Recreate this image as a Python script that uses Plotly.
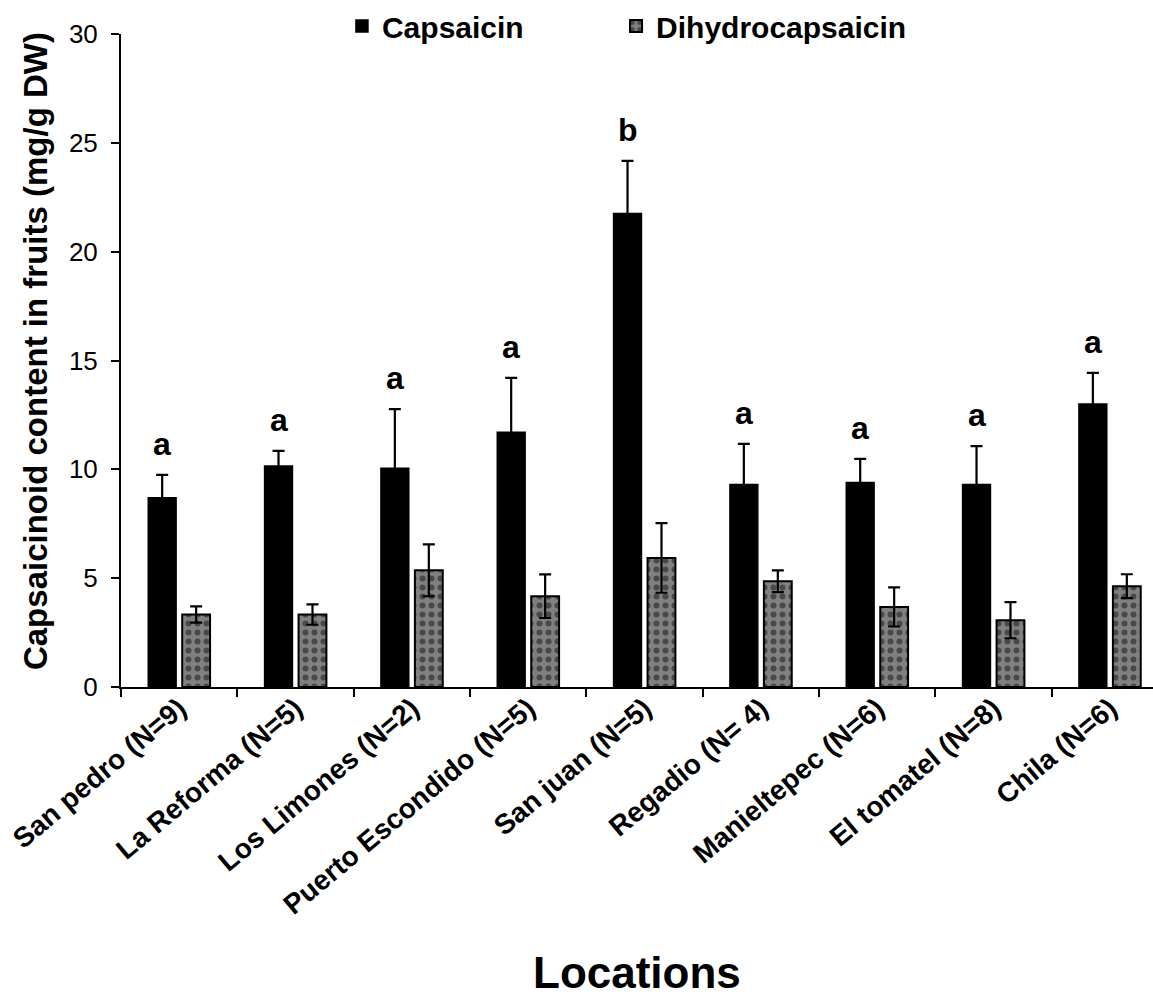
import plotly.graph_objects as go

locations = ["San pedro (N=9)", "La Reforma (N=5)", "Los Limones (N=2)",
             "Puerto Escondido (N=5)", "San juan (N=5)", "Regadio (N= 4)",
             "Manieltepec (N=6)", "El tomatel (N=8)", "Chila (N=6)"]
capsaicin = [8.7, 10.15, 10.05, 11.7, 21.75, 9.3, 9.4, 9.3, 13.0]
capsaicin_err = [1.05, 0.7, 2.72, 2.5, 2.42, 1.87, 1.08, 1.77, 1.43]
dihydro = [3.33, 3.33, 5.36, 4.17, 5.93, 4.86, 3.68, 3.07, 4.63]
dihydro_err = [0.37, 0.47, 1.19, 1.0, 1.6, 0.5, 0.9, 0.83, 0.55]
letters = ["a", "a", "a", "a", "b", "a", "a", "a", "a"]

FONT = "Liberation Sans, Arial, sans-serif"

fig = go.Figure()
fig.add_trace(go.Bar(
    name="Capsaicin", x=locations, y=capsaicin, legend="legend",
    marker=dict(color="black", line=dict(color="black", width=1.5)),
    error_y=dict(type="data", array=capsaicin_err, visible=True,
                 color="black", thickness=2.2, width=6),
))
fig.add_trace(go.Bar(
    name="Dihydrocapsaicin", x=locations, y=dihydro, legend="legend2",
    marker=dict(color="#808080", line=dict(color="black", width=2),
                pattern=dict(shape=".", fgcolor="#111111", bgcolor="#808080",
                             size=9, solidity=0.35, fillmode="overlay")),
    error_y=dict(type="data", array=dihydro_err, visible=True,
                 color="black", thickness=2.2, width=6),
))

annotations = []
for loc, v, e, t in zip(locations, capsaicin, capsaicin_err, letters):
    annotations.append(dict(x=loc, y=v + e, xref="x", yref="y", text=t,
                            showarrow=False, xshift=-17, yshift=11,
                            yanchor="bottom",
                            font=dict(family=FONT, size=32, color="black",
                                      weight="bold")))
annotations.append(dict(x=0.5, y=-0.437, xref="paper", yref="paper",
                        text="Locations", showarrow=False,
                        xanchor="center", yanchor="middle",
                        font=dict(family=FONT, size=44, color="black",
                                  weight="bold")))
annotations.append(dict(x=-0.0833, y=0.5145, xref="paper", yref="paper",
                        text="Capsaicinoid content in fruits (mg/g DW)",
                        showarrow=False, textangle=-90,
                        xanchor="center", yanchor="middle",
                        font=dict(family=FONT, size=33, color="black",
                                  weight="bold")))

legend_style = dict(orientation="h", xanchor="left", y=1.052, yanchor="top",
                    font=dict(family=FONT, size=30, weight="bold"),
                    bgcolor="rgba(0,0,0,0)")

fig.update_layout(
    width=1153, height=1005,
    margin=dict(l=121, r=0, t=34, b=318),
    paper_bgcolor="white", plot_bgcolor="white",
    barmode="group", bargap=0.416, bargroupgap=0.18,
    font=dict(family=FONT, color="black"),
    showlegend=True,
    legend=dict(x=0.2141, **legend_style),
    legend2=dict(x=0.4797, **legend_style),
    annotations=annotations,
    xaxis=dict(range=[-0.5, 8.371], showline=True, linecolor="black",
               linewidth=2, ticks="outside", tickson="boundaries",
               ticklen=8, tickwidth=2, tickcolor="black", tickangle=-40,
               ticklabelstandoff=-8,
               tickfont=dict(family=FONT, size=28, weight="bold"),
               showgrid=False, zeroline=False),
    yaxis=dict(range=[0, 30], tickvals=[0, 5, 10, 15, 20, 25, 30],
               showline=True, linecolor="black", linewidth=2,
               ticks="outside", ticklen=8, tickwidth=2, tickcolor="black",
               ticklabelstandoff=8,
               tickfont=dict(family=FONT, size=26), showgrid=False,
               zeroline=False),
)

fig.write_html("out.html")
